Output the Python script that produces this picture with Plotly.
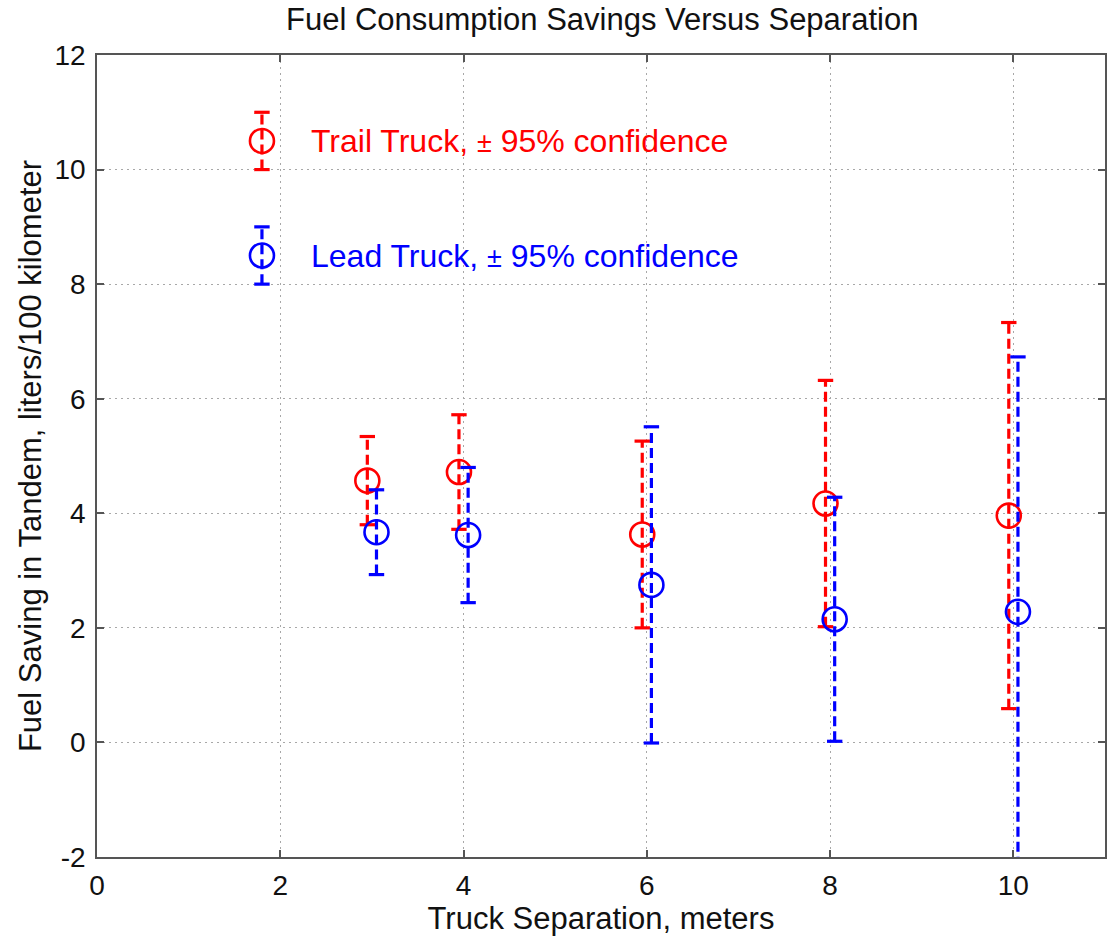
import plotly.graph_objects as go

# Truck separation (m) and fuel savings (L/100 km) with 95% confidence half-widths
separation = [3, 4, 6, 8, 10]
trail_saving = [4.57, 4.72, 3.63, 4.17, 3.96]
trail_ci = [0.77, 1.00, 1.63, 2.15, 3.37]
lead_saving = [3.67, 3.62, 2.75, 2.15, 2.28]
lead_ci = [0.74, 1.18, 2.76, 2.13, 4.45]

# Key entries drawn inside the axes
key_x = [1.8, 1.8]
key_y = [10.5, 8.5]
key_ci = [0.5, 0.5]
key_labels = ["Trail Truck, <span style='font-size:27px'>±</span> 95% confidence",
              "Lead Truck, <span style='font-size:27px'>±</span> 95% confidence"]

x_ticks = [0, 2, 4, 6, 8, 10]
x_ticktext = ["0", "2", "4", "6", "8", "10"]
y_ticks = [-2, 0, 2, 4, 6, 8, 10, 12]
y_ticktext = ["-2", "0", "2", "4", "6", "8", "10", "12"]

RED = "#ff0000"
BLUE = "#0000ff"
DODGE = 0.05
FONT = "Liberation Sans, Arial, sans-serif"
INK = "#111111"

fig = go.Figure()


def add_errorbars(xs, ys, cis, color):
    # dashed vertical whiskers
    wx, wy = [], []
    for x, y, c in zip(xs, ys, cis):
        wx += [x, x, None]
        wy += [y - c, y + c, None]
    fig.add_trace(go.Scatter(x=wx, y=wy, mode="lines",
                             line=dict(color=color, width=3.2, dash="10px,5px"),
                             hoverinfo="skip", showlegend=False))
    # caps
    cx = list(xs) + list(xs)
    cy = [y + c for y, c in zip(ys, cis)] + [y - c for y, c in zip(ys, cis)]
    fig.add_trace(go.Scatter(x=cx, y=cy, mode="markers",
                             marker=dict(symbol="line-ew", size=11,
                                         line=dict(color=color, width=3.2)),
                             hoverinfo="skip", showlegend=False))
    # open circle markers
    fig.add_trace(go.Scatter(x=xs, y=ys, mode="markers",
                             marker=dict(symbol="circle-open", size=24, color=color,
                                         line=dict(color=color, width=2.6)),
                             showlegend=False))


trail_x = [s - DODGE for s in separation]
lead_x = [s + DODGE for s in separation]
add_errorbars(trail_x, trail_saving, trail_ci, RED)
add_errorbars(lead_x, lead_saving, lead_ci, BLUE)
add_errorbars([key_x[0]], [key_y[0]], [key_ci[0]], RED)
add_errorbars([key_x[1]], [key_y[1]], [key_ci[1]], BLUE)

for y, label, color in zip(key_y, key_labels, [RED, BLUE]):
    fig.add_annotation(x=2.31, y=y, xref="x", yref="y", text=label, showarrow=False,
                       xanchor="left", yanchor="middle",
                       font=dict(family=FONT, size=32, color=color))

axis_common = dict(
    showline=True, linecolor="#555555", linewidth=1.5, mirror="ticks",
    ticks="inside", ticklen=7, tickcolor="#555555", tickwidth=1.5,
    showgrid=True, gridcolor="#a8a8a8", gridwidth=1.2, griddash="2px,4px",
    zeroline=False, tickfont=dict(family=FONT, size=28, color=INK),
)

fig.update_xaxes(range=[0, 11], tickvals=x_ticks, ticktext=x_ticktext, ticklabelstandoff=3,
                 title=dict(text="Truck Separation, meters", standoff=0,
                            font=dict(family=FONT, size=31, color=INK)),
                 **axis_common)
fig.update_yaxes(range=[-2, 12], tickvals=y_ticks, ticktext=y_ticktext, ticklabelstandoff=4,
                 title=dict(text="Fuel Saving in Tandem, liters/100 kilometer", standoff=4,
                            font=dict(family=FONT, size=31, color=INK)),
                 **axis_common)

fig.update_layout(
    width=1108, height=941,
    margin=dict(l=97, r=1, t=55, b=84),
    paper_bgcolor="white", plot_bgcolor="white",
    title=dict(text="Fuel Consumption Savings Versus Separation",
               x=0.5435, xanchor="center", y=1 - 19 / 941, yanchor="middle",
               yref="container",
               font=dict(family=FONT, size=31, color=INK)),
)

fig.write_html("out.html")
